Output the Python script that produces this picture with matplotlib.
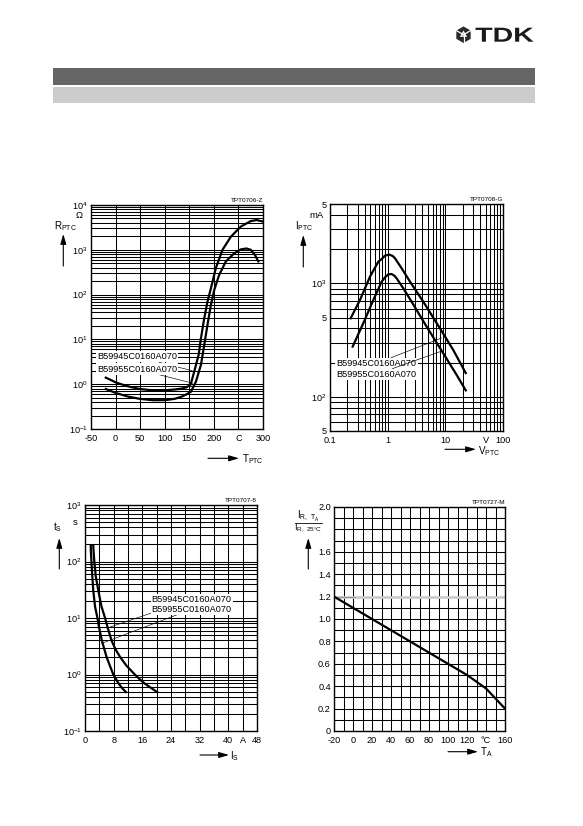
import numpy as np
import matplotlib
matplotlib.use('Agg')
import matplotlib.pyplot as plt
from matplotlib.ticker import FixedLocator, NullFormatter, LogLocator, MultipleLocator
from matplotlib.textpath import TextPath
from matplotlib.font_manager import FontProperties
from matplotlib.patches import PathPatch, Rectangle, RegularPolygon, Polygon
from matplotlib.transforms import Affine2D

plt.rcParams['font.family'] = ['Liberation Sans', 'DejaVu Sans']
plt.rcParams['axes.unicode_minus'] = False

# ---------------- data ----------------
part_labels = ['B59945C0160A070', 'B59955C0160A070']

# Chart 1: R_PTC (ohm) vs T_PTC (deg C)
t1_a = [-20, -10, 0, 15, 30, 50, 75, 100, 120, 135, 145, 153, 160, 169, 173.7, 180.4, 187,
        194, 204, 217.6, 234.5, 254.8, 275, 287, 300]
r1_a = [1.4, 1.25, 1.1, 0.97, 0.87, 0.78, 0.73, 0.73, 0.76, 0.8, 0.86, 1.0, 1.9, 4.5, 10.5,
        29.5, 69, 138, 390, 1000, 1950, 3300, 4370, 4620, 4270]
t1_b = [-20, 0, 25, 50, 75, 100, 120, 135, 145, 153.4, 163.5, 173.7, 180.4, 187, 194, 200.7,
        210.8, 224.4, 241.3, 254.8, 266.3, 275, 283.8, 290.5]
r1_b = [0.78, 0.64, 0.53, 0.47, 0.44, 0.44, 0.47, 0.53, 0.6, 0.68, 1.14, 2.7, 7.5, 21, 59, 126,
        275, 550, 830, 1020, 1070, 1000, 760, 550]

# Chart 2: I_PTC (mA) vs V_PTC (V)
v2_a = [0.228, 0.331, 0.494, 0.689, 0.787, 0.899, 1.07, 1.22, 1.34, 1.75, 2.44, 4.15, 8.07,
        13.7, 22.6]
i2_a = [492, 713, 1146, 1552, 1637, 1754, 1790, 1742, 1662, 1355, 1034, 689, 401, 259, 162]
v2_b = [0.247, 0.378, 0.564, 0.787, 0.90, 1.03, 1.17, 1.31, 1.43, 1.87, 2.6, 4.74, 9.2, 15.7,
        22.6]
i2_b = [277, 445, 713, 1035, 1130, 1200, 1208, 1167, 1107, 903, 689, 415, 242, 156, 114]

# Chart 3: t_S (s) vs I_S (A)
i3_a = [1.6, 1.65, 1.8, 2.0, 2.3, 2.8, 3.4, 4.0, 4.7, 5.4, 6.0, 7.0, 7.9, 8.7, 9.4, 10.4, 11.4]
t3_a = [190, 150, 100, 60, 31, 16, 10.5, 6.5, 4.0, 2.8, 2.06, 1.4, 1.0, 0.82, 0.69, 0.57, 0.49]
i3_b = [2.3, 2.4, 2.6, 3.0, 3.7, 4.6, 5.6, 6.5, 7.4, 8.5, 9.75, 11.5, 13.9, 15.3, 16.7, 18.4, 20.1]
t3_b = [190, 150, 100, 55, 31, 16, 10, 6.2, 4.0, 2.8, 2.06, 1.45, 1.0, 0.82, 0.69, 0.58, 0.49]

# Chart 4: I_R,TA / I_R,25C vs T_A
t4 = [-20, 0, 20, 40, 60, 80, 100, 120, 140, 160]
ir4 = [1.2, 1.1, 1.0, 0.9, 0.8, 0.7, 0.6, 0.5, 0.38, 0.2]

# tick labels
x1_ticks = [-50, 0, 50, 100, 150, 200, 250, 300]
x1_labels = ['-50', '0', '50', '100', '150', '200', 'C', '300']
y1_ticks = [0.1, 1, 10, 100, 1000, 10000]
y1_labels = [r'$\mathregular{10^{-1}}$', r'$\mathregular{10^{0}}$', r'$\mathregular{10^{1}}$',
             r'$\mathregular{10^{2}}$', r'$\mathregular{10^{3}}$', r'$\mathregular{10^{4}}$']
x2_ticks = [0.1, 1, 10, 50, 100]
x2_labels = ['0.1', '1', '10', 'V', '100']
y2_ticks = [50, 100, 500, 1000, 5000]
y2_labels = ['5', r'$\mathregular{10^{2}}$', '5', r'$\mathregular{10^{3}}$', '5']
x3_ticks = [0, 8, 16, 24, 32, 40, 44, 48]
x3_labels = ['0', '8', '16', '24', '32', '40', 'A', '48']
y3_ticks = [0.1, 1, 10, 100, 1000]
y3_labels = [r'$\mathregular{10^{-1}}$', r'$\mathregular{10^{0}}$', r'$\mathregular{10^{1}}$',
             r'$\mathregular{10^{2}}$', r'$\mathregular{10^{3}}$']
x4_ticks = [-20, 0, 20, 40, 60, 80, 100, 120, 140, 160]
x4_labels = ['-20', '0', '20', '40', '60', '80', '100', '120', '°C', '160']
y4_ticks = [0, 0.2, 0.4, 0.6, 0.8, 1.0, 1.2, 1.4, 1.6, 2.0]
y4_labels = ['0', '0.2', '0.4', '0.6', '0.8', '1.0', '1.2', '1.4', '1.6', '2.0']

# ---------------- figure ----------------
W, H = 583, 826
fig = plt.figure(figsize=(W / 100, H / 100), dpi=100)
fig.patch.set_facecolor('white')

bg = fig.add_axes([0, 0, 1, 1])
bg.set_xlim(0, W)
bg.set_ylim(H, 0)
bg.axis('off')


def px_axes(L, R, T, B):
    return fig.add_axes([L / W, (H - B) / H, (R - L) / W, (B - T) / H])


FS = 6.6
LW_CURVE = 1.6
LBL = 7.1


def style(ax, code):
    ax.set_axisbelow(True)
    ax.grid(which='both', color='black', lw=0.75)
    ax.tick_params(which='both', length=0, labelsize=FS)
    ax.tick_params(axis='x', which='both', pad=3.6)
    ax.tick_params(axis='y', which='both', pad=2.3)
    for sp in ax.spines.values():
        sp.set_linewidth(1.0)
    ax.text(1.0, 1.008, code, transform=ax.transAxes, ha='right', va='bottom', fontsize=4.6)


def log_minor(axis):
    axis.set_minor_locator(LogLocator(base=10, subs=np.arange(2, 10), numticks=100))
    axis.set_minor_formatter(NullFormatter())


def leader(ax, text, xy, xytext):
    ax.annotate(text, xy=xy, xytext=xytext, fontsize=FS, ha='left', va='center',
                bbox=dict(boxstyle='square,pad=0.12', fc='white', ec='none'),
                arrowprops=dict(arrowstyle='-', lw=0.45, color='black', shrinkA=0, shrinkB=0),
                zorder=5)


def up_arrow(x, y0, y1):
    bg.annotate('', xy=(x, y1), xytext=(x, y0),
                arrowprops=dict(arrowstyle='-|>,head_length=0.75,head_width=0.22', lw=0.8,
                                color='black', shrinkA=0, shrinkB=0, mutation_scale=8))


def right_arrow(x0, x1, y):
    bg.annotate('', xy=(x1, y), xytext=(x0, y),
                arrowprops=dict(arrowstyle='-|>,head_length=0.75,head_width=0.22', lw=0.8,
                                color='black', shrinkA=0, shrinkB=0, mutation_scale=8))


# ---- header ----
bg.add_patch(Rectangle((52.7, 67.7), 482.3, 17.3, fc='#666666', ec='none'))
bg.add_patch(Rectangle((52.7, 87.0), 482.3, 16.3, fc='#cccccc', ec='none'))

# TDK logo
fp = FontProperties(family='Liberation Sans', weight='bold')
tp = TextPath((0, 0), 'TDK', size=1, prop=fp)
ext = tp.get_extents()
sx = 58.0 / ext.width
sy = 14.0 / ext.height
tr = Affine2D().translate(-ext.x0, -ext.y0).scale(sx, -sy).translate(475.5, 41.7) + bg.transData
bg.add_patch(PathPatch(tp, transform=tr, fc='#1a1a1a', ec='none'))
cx, cy = 463.5, 34.7
bg.add_patch(RegularPolygon((cx, cy), numVertices=6, radius=8.3, orientation=0,
                            fc='#2a2a2a', ec='none'))
tri = [(cx + 4.2 * np.sin(a), cy - 4.2 * np.cos(a)) for a in np.deg2rad([0, 120, 240])]
bg.add_patch(Polygon(tri, closed=True, fc='white', ec='none'))
for a in np.deg2rad([60, 180, 300]):
    bg.plot([cx, cx + 8 * np.sin(a)], [cy, cy - 8 * np.cos(a)], color='white', lw=0.9)
bg.add_patch(RegularPolygon((cx, cy), numVertices=3, radius=1.6, orientation=np.pi,
                            fc='#2a2a2a', ec='none'))

# ---- Chart 1 ----
ax1 = px_axes(91, 263, 205, 429)
ax1.set_yscale('log')
ax1.set_xlim(-50, 300)
ax1.set_ylim(0.1, 1e4)
ax1.xaxis.set_major_locator(FixedLocator(x1_ticks))
ax1.set_xticklabels(x1_labels)
ax1.yaxis.set_major_locator(FixedLocator(y1_ticks))
ax1.set_yticklabels(y1_labels)
log_minor(ax1.yaxis)
style(ax1, 'TPT0706-Z')
ax1.plot(t1_a, r1_a, color='black', lw=LW_CURVE, zorder=4, solid_joinstyle='round')
ax1.plot(t1_b, r1_b, color='black', lw=LW_CURVE, zorder=4, solid_joinstyle='round')
leader(ax1, part_labels[0], (156, 2.0), (-38, 4.1))
leader(ax1, part_labels[1], (157, 1.05), (-38, 2.18))

bg.text(54.5, 226, r'$\mathregular{R_{PTC}}$', fontsize=LBL, ha='left', va='center')
bg.text(79.5, 216, 'Ω', fontsize=6.8, ha='center', va='center')
up_arrow(63.3, 266, 234)
right_arrow(208, 239, 458.3)
bg.text(241.5, 459.5, r'$\mathregular{T_{PTC}}$', fontsize=LBL, ha='left', va='center')

# ---- Chart 2 ----
ax2 = px_axes(330, 503, 204, 431)
ax2.set_xscale('log')
ax2.set_yscale('log')
ax2.set_xlim(0.1, 100)
ax2.set_ylim(50, 5000)
ax2.xaxis.set_major_locator(FixedLocator(x2_ticks))
ax2.set_xticklabels(x2_labels)
ax2.yaxis.set_major_locator(FixedLocator(y2_ticks))
ax2.set_yticklabels(y2_labels)
log_minor(ax2.xaxis)
log_minor(ax2.yaxis)
style(ax2, 'TPT0708-G')
ax2.plot(v2_a, i2_a, color='black', lw=LW_CURVE, zorder=4, solid_joinstyle='round')
ax2.plot(v2_b, i2_b, color='black', lw=LW_CURVE, zorder=4, solid_joinstyle='round')
leader(ax2, part_labels[0], (8.6, 330), (0.13, 197))
leader(ax2, part_labels[1], (8.1, 250), (0.13, 158))

bg.text(295, 226, r'$\mathregular{I_{PTC}}$', fontsize=LBL, ha='left', va='center')
bg.text(323.5, 215.5, 'mA', fontsize=6.8, ha='right', va='center')
up_arrow(303.3, 267, 235)
right_arrow(445, 476, 449.3)
bg.text(478, 451.5, r'$\mathregular{V_{PTC}}$', fontsize=LBL, ha='left', va='center')

# ---- Chart 3 ----
ax3 = px_axes(85, 257, 505, 731)
ax3.set_yscale('log')
ax3.set_xlim(0, 48)
ax3.set_ylim(0.1, 1000)
ax3.xaxis.set_major_locator(FixedLocator(x3_ticks))
ax3.set_xticklabels(x3_labels)
ax3.xaxis.set_minor_locator(MultipleLocator(4))
ax3.yaxis.set_major_locator(FixedLocator(y3_ticks))
ax3.set_yticklabels(y3_labels)
log_minor(ax3.yaxis)
style(ax3, 'TPT0707-8')
ax3.plot(i3_a, t3_a, color='black', lw=LW_CURVE, zorder=4, solid_joinstyle='round')
ax3.plot(i3_b, t3_b, color='black', lw=LW_CURVE, zorder=4, solid_joinstyle='round')
leader(ax3, part_labels[0], (6.05, 6.6), (18.6, 21.4))
leader(ax3, part_labels[1], (4.66, 3.56), (18.6, 14.3))

bg.text(53, 527, r'$\mathregular{t_{S}}$', fontsize=LBL, ha='left', va='center')
bg.text(75.5, 522.5, 's', fontsize=6.8, ha='center', va='center')
up_arrow(59.3, 569, 538)
right_arrow(200, 229, 755)
bg.text(230.5, 756.5, r'$\mathregular{I_{S}}$', fontsize=LBL, ha='left', va='center')

# ---- Chart 4 ----
ax4 = px_axes(334, 505, 507, 731)
ax4.set_xlim(-20, 160)
ax4.set_ylim(0, 2.0)
ax4.xaxis.set_major_locator(FixedLocator(x4_ticks))
ax4.set_xticklabels(x4_labels)
ax4.xaxis.set_minor_locator(MultipleLocator(10))
ax4.yaxis.set_major_locator(FixedLocator(y4_ticks))
ax4.set_yticklabels(y4_labels)
ax4.yaxis.set_minor_locator(MultipleLocator(0.1))
style(ax4, 'TPT0727-M')
ax4.axhline(1.2, color='#cdcdcd', lw=2.0, zorder=1)
ax4.axhline(1.2, xmin=0, xmax=22 / 180, color='#8a8a8a', lw=0.6, zorder=1.1)
ax4.plot(t4, ir4, color='black', lw=LW_CURVE, zorder=4, solid_joinstyle='round')

bg.text(308.0, 516.0, r'$\mathregular{I_{R,\ T_A}}$', fontsize=6.9, ha='center', va='center')
bg.plot([295, 321.5], [522.7, 522.7], color='black', lw=0.6)
bg.text(308.0, 528.5, r'$\mathregular{I_{R,\ 25°C}}$', fontsize=6.5, ha='center', va='center')
up_arrow(308.3, 569, 538)
right_arrow(448, 478, 751.7)
bg.text(480, 752.5, r'$\mathregular{T_{A}}$', fontsize=LBL, ha='left', va='center')

fig.savefig('out.png', dpi=100, facecolor='white')
